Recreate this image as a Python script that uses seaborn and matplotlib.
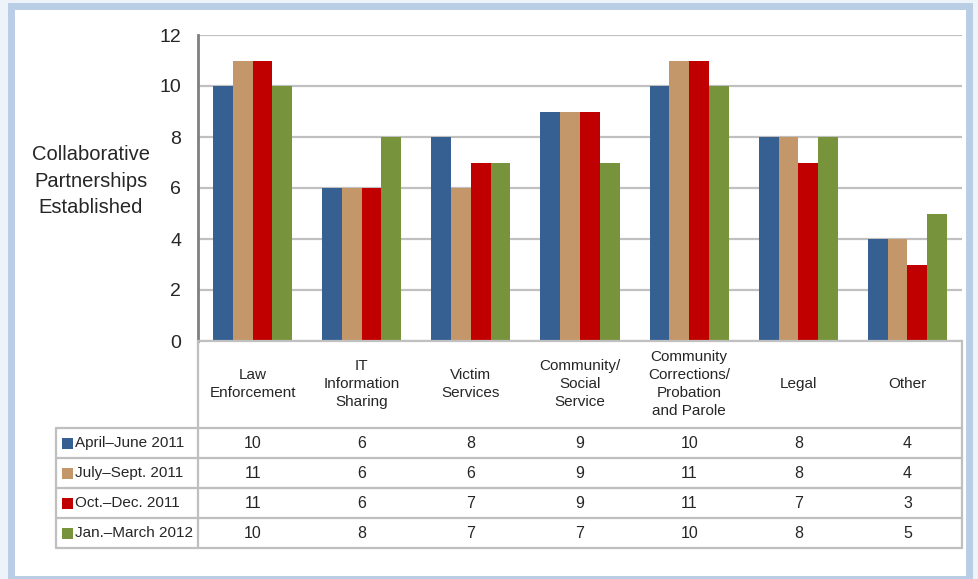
import matplotlib
matplotlib.use('Agg')
import matplotlib.pyplot as plt
import matplotlib.transforms as mtrans
from matplotlib.patches import Rectangle
from matplotlib.lines import Line2D
import seaborn as sns
import pandas as pd

categories = ["Law\nEnforcement", "IT\nInformation\nSharing", "Victim\nServices",
              "Community/\nSocial\nService", "Community\nCorrections/\nProbation\nand Parole",
              "Legal", "Other"]
periods = ["April\u2013June 2011", "July\u2013Sept. 2011", "Oct.\u2013Dec. 2011", "Jan.\u2013March 2012"]
april_june = [10, 6, 8, 9, 10, 8, 4]
july_sept = [11, 6, 6, 9, 11, 8, 4]
oct_dec = [11, 6, 7, 9, 11, 7, 3]
jan_march = [10, 8, 7, 7, 10, 8, 5]
colors = ["#376092", "#c4976a", "#c00000", "#77933c"]

rows = []
for p, vals in zip(periods, [april_june, july_sept, oct_dec, jan_march]):
    for c, v in zip(categories, vals):
        rows.append({"category": c, "period": p, "value": v})
df = pd.DataFrame(rows)

sns.set_style("white")
plt.rcParams['font.family'] = ['Liberation Sans Narrow', 'Liberation Sans', 'DejaVu Sans']

W, H = 979, 579
fig = plt.figure(figsize=(W / 100, H / 100), dpi=100)
fig.patch.set_facecolor("#eef3f9")
# outer frame, kept behind the axes
frame = Rectangle((10.5 / W, 0), (969.5 - 10.5) / W, 1 - 5.5 / H,
                  transform=fig.transFigure, facecolor="white",
                  edgecolor="#b9cde5", linewidth=5, zorder=-10)
fig.patches.append(frame)

L, R, T, B = 198, 962, 35, 341
ax = fig.add_axes([L / W, 1 - B / H, (R - L) / W, (B - T) / H])
ax.set_facecolor("none")
sns.barplot(data=df, x="category", y="value", hue="period", palette=colors,
            width=0.725, gap=0, saturation=1, ax=ax, legend=False,
            edgecolor="none")
ax.set_ylim(0, 12)
ax.set_xlim(-0.5, len(categories) - 0.5)
ax.set_yticks(range(0, 13, 2))
ax.tick_params(axis='y', labelsize=14, pad=12, length=0)
ax.set_xticks([])
ax.set_xlabel("")
ax.set_ylabel("")
ax.yaxis.grid(True, color="#c0c0c0", linewidth=1.6)
ax.set_axisbelow(True)
for s in ["top", "right"]:
    ax.spines[s].set_visible(False)
ax.spines["left"].set_color("#7f7f7f")
ax.spines["left"].set_linewidth(2)
ax.spines["bottom"].set_color("#c0c0c0")
ax.spines["bottom"].set_linewidth(1.6)

fig.text(91 / W, 1 - 181 / H, "Collaborative\nPartnerships\nEstablished",
         ha="center", va="center", fontsize=14.5, linespacing=1.5)

# data table under the chart
TL, TT, TB = 56, 341, 548
tab = fig.add_axes([TL / W, 1 - TB / H, (R - TL) / W, (TB - TT) / H])
tab.set_facecolor("none")
tab.set_xlim(TL, R)
tab.set_ylim(TB, TT)
tab.axis("off")
line_kw = dict(color="#bfbfbf", linewidth=1.6, clip_on=False)
row_lines = [428, 458, 488, 518, 548]
for y in row_lines:
    tab.add_line(Line2D([TL, R], [y, y], **line_kw))
tab.add_line(Line2D([TL, TL], [row_lines[0], row_lines[-1]], **line_kw))
tab.add_line(Line2D([L, L], [TT, row_lines[-1]], **line_kw))
tab.add_line(Line2D([R, R], [TT, row_lines[-1]], **line_kw))

col_tr = mtrans.blended_transform_factory(ax.transData, tab.transData)
for i, c in enumerate(categories):
    tab.text(i, 384, c, transform=col_tr, ha="center", va="center",
             fontsize=11, linespacing=1.38)
for r, (p, vals, col) in enumerate(zip(periods, [april_june, july_sept, oct_dec, jan_march], colors)):
    yc = (row_lines[r] + row_lines[r + 1]) / 2
    tab.add_patch(Rectangle((62, yc - 5), 10.5, 10.5, facecolor=col, edgecolor="none"))
    tab.text(75, yc, p, ha="left", va="center", fontsize=11)
    for i, v in enumerate(vals):
        tab.text(i, yc, str(v), transform=col_tr, ha="center", va="center", fontsize=11.5)

fig.savefig("out.png", dpi=100, facecolor=fig.get_facecolor())
